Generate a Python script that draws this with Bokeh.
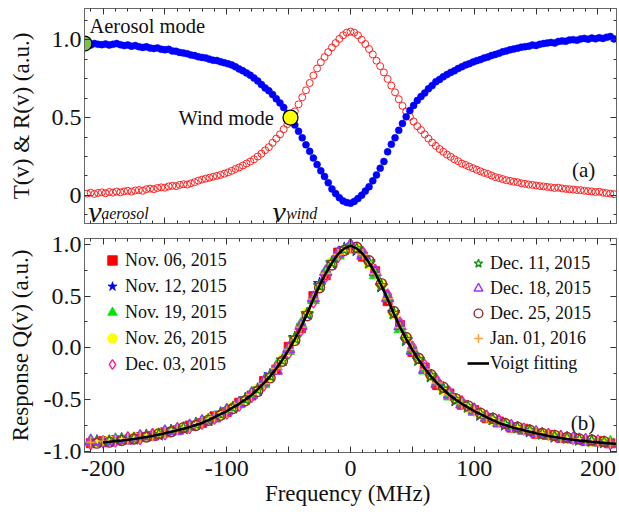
import numpy as np
from bokeh.plotting import figure
from bokeh.layouts import column
from bokeh.models import (LinearAxis, FixedTicker, Legend, LegendItem, Label, Range1d)
from bokeh.embed import file_html
from bokeh.resources import INLINE

FONT = "Liberation Serif"

# ---------------- panel (a): transmission T and reflection R ----------------
freq_top = list(range(-213, 214, 3))
trans_T = [
    0.970, 0.965, 0.975, 0.970, 0.968, 0.972, 0.965, 0.970, 0.975, 0.968,
    0.962, 0.966, 0.958, 0.962, 0.955, 0.950, 0.954, 0.946, 0.943, 0.947,
    0.938, 0.935, 0.938, 0.928, 0.925, 0.918, 0.914, 0.910, 0.902, 0.898,
    0.890, 0.886, 0.883, 0.875, 0.868, 0.866, 0.858, 0.852, 0.845, 0.838,
    0.826, 0.812, 0.800, 0.786, 0.772, 0.754, 0.735, 0.712, 0.690, 0.672,
    0.648, 0.620, 0.594, 0.565, 0.525, 0.490, 0.452, 0.412, 0.370, 0.325,
    0.283, 0.240, 0.198, 0.158, 0.122, 0.082, 0.042, 0.012, -0.015, -0.035,
    -0.046, -0.050, -0.038, -0.020, 0.002, 0.028, 0.056, 0.094, 0.132, 0.175,
    0.218, 0.280, 0.328, 0.370, 0.418, 0.462, 0.505, 0.545, 0.578, 0.610,
    0.635, 0.658, 0.685, 0.705, 0.730, 0.745, 0.762, 0.776, 0.790, 0.800,
    0.815, 0.826, 0.838, 0.846, 0.856, 0.865, 0.872, 0.882, 0.888, 0.898,
    0.905, 0.912, 0.922, 0.928, 0.935, 0.940, 0.945, 0.952, 0.955, 0.958,
    0.965, 0.963, 0.970, 0.975, 0.978, 0.982, 0.978, 0.988, 0.992, 0.990,
    0.998, 1.000, 0.996, 1.005, 1.008, 1.003, 1.010, 1.006, 1.012, 1.008,
    1.015, 1.020, 1.005,
]
refl_R = [
    0.012, 0.018, 0.010, 0.016, 0.020, 0.014, 0.022, 0.018, 0.025, 0.020,
    0.026, 0.030, 0.024, 0.032, 0.035, 0.030, 0.040, 0.044, 0.040, 0.048,
    0.052, 0.050, 0.058, 0.062, 0.060, 0.068, 0.072, 0.070, 0.078, 0.085,
    0.095, 0.102, 0.108, 0.114, 0.120, 0.126, 0.132, 0.140, 0.148, 0.158,
    0.170, 0.180, 0.192, 0.205, 0.218, 0.232, 0.250, 0.268, 0.290, 0.310,
    0.338, 0.365, 0.392, 0.425, 0.458, 0.495, 0.540, 0.585, 0.630, 0.675,
    0.722, 0.770, 0.815, 0.855, 0.888, 0.920, 0.950, 0.978, 1.005, 1.028,
    1.045, 1.052, 1.045, 1.028, 1.000, 0.972, 0.940, 0.905, 0.865, 0.830,
    0.790, 0.748, 0.705, 0.662, 0.618, 0.575, 0.538, 0.505, 0.475, 0.445,
    0.420, 0.392, 0.365, 0.340, 0.318, 0.298, 0.280, 0.262, 0.248, 0.232,
    0.220, 0.205, 0.196, 0.185, 0.175, 0.165, 0.155, 0.145, 0.138, 0.128,
    0.118, 0.112, 0.105, 0.098, 0.094, 0.088, 0.085, 0.078, 0.075, 0.070,
    0.068, 0.064, 0.060, 0.058, 0.055, 0.052, 0.048, 0.050, 0.045, 0.042,
    0.040, 0.038, 0.035, 0.034, 0.030, 0.028, 0.026, 0.022, 0.024, 0.018,
    0.015, 0.012, 0.008,
]
# highlighted operating points: aerosol mode, wind mode
mode_freq = [-215.0, -48.5]
mode_value = [0.975, 0.5]
mode_colors = ["#7DC243", "#FFFF00"]

# ---------------- panel (b): response function Q ----------------
freq_fit = list(range(-200, 216, 5))
voigt_fit = [
    -0.912, -0.907, -0.900, -0.895, -0.887, -0.880, -0.870, -0.860, -0.850, -0.837,
    -0.825, -0.810, -0.795, -0.780, -0.765, -0.745, -0.725, -0.698, -0.670, -0.640,
    -0.610, -0.575, -0.540, -0.500, -0.455, -0.400, -0.340, -0.275, -0.200, -0.115,
    -0.020, 0.085, 0.200, 0.330, 0.470, 0.600, 0.720, 0.820, 0.905, 0.960,
    0.985, 0.960, 0.905, 0.820, 0.720, 0.600, 0.470, 0.330, 0.200, 0.085,
    -0.020, -0.115, -0.200, -0.275, -0.340, -0.400, -0.455, -0.500, -0.540, -0.575,
    -0.610, -0.640, -0.670, -0.698, -0.725, -0.745, -0.765, -0.780, -0.795, -0.810,
    -0.825, -0.837, -0.850, -0.860, -0.870, -0.880, -0.887, -0.895, -0.900, -0.907,
    -0.912, -0.917, -0.922, -0.925,
]

freq_scan_a = list(range(-210, 211, 10))
freq_scan_b = list(range(-205, 206, 10))

dates = ["Nov. 06, 2015", "Nov. 12, 2015", "Nov. 19, 2015", "Nov. 26, 2015",
         "Dec. 03, 2015", "Dec. 11, 2015", "Dec. 18, 2015", "Dec. 25, 2015",
         "Jan. 01, 2016"]
scan_grid = ["a", "b", "a", "b", "a", "b", "a", "b", "a"]

q_nov06 = [-0.92, -0.90, -0.89, -0.885, -0.86, -0.85, -0.815, -0.795, -0.75, -0.725,
           -0.66, -0.62, -0.53, -0.46, -0.32, -0.21, 0.01, 0.19, 0.50, 0.70,
           0.92, 0.96, 0.88, 0.74, 0.45, 0.22, -0.04, -0.19, -0.36, -0.44,
           -0.55, -0.60, -0.68, -0.71, -0.77, -0.78, -0.83, -0.84, -0.87, -0.875,
           -0.90, -0.90, -0.92]
q_nov12 = [-0.90, -0.905, -0.88, -0.88, -0.845, -0.84, -0.80, -0.78, -0.73, -0.70,
           -0.63, -0.58, -0.49, -0.41, -0.26, -0.12, 0.10, 0.32, 0.62, 0.81,
           0.96, 0.94, 0.83, 0.59, 0.34, 0.07, -0.12, -0.28, -0.39, -0.51,
           -0.57, -0.65, -0.69, -0.745, -0.77, -0.81, -0.83, -0.86, -0.87, -0.89,
           -0.895, -0.915]
q_nov19 = [-0.91, -0.91, -0.885, -0.875, -0.87, -0.84, -0.825, -0.785, -0.765, -0.715,
           -0.675, -0.60, -0.545, -0.44, -0.35, -0.18, -0.03, 0.23, 0.46, 0.74,
           0.89, 0.98, 0.91, 0.70, 0.49, 0.18, -0.01, -0.22, -0.33, -0.47,
           -0.53, -0.62, -0.665, -0.73, -0.755, -0.80, -0.815, -0.85, -0.86, -0.885,
           -0.89, -0.91, -0.91]
q_nov26 = [-0.915, -0.895, -0.89, -0.865, -0.86, -0.825, -0.81, -0.77, -0.745, -0.69,
           -0.645, -0.57, -0.505, -0.395, -0.28, -0.11, 0.08, 0.34, 0.59, 0.83,
           0.94, 0.96, 0.81, 0.61, 0.32, 0.09, -0.11, -0.27, -0.41, -0.495,
           -0.58, -0.635, -0.70, -0.735, -0.78, -0.80, -0.84, -0.85, -0.88, -0.885,
           -0.905, -0.905]
q_dec03 = [-0.925, -0.91, -0.90, -0.87, -0.875, -0.835, -0.83, -0.78, -0.77, -0.73,
           -0.68, -0.63, -0.555, -0.47, -0.36, -0.19, -0.05, 0.17, 0.44, 0.69,
           0.88, 0.99, 0.92, 0.75, 0.51, 0.24, 0.01, -0.17, -0.32, -0.43,
           -0.52, -0.59, -0.66, -0.70, -0.75, -0.785, -0.81, -0.835, -0.855, -0.875,
           -0.885, -0.90, -0.925]
q_dec11 = [-0.905, -0.90, -0.885, -0.875, -0.85, -0.835, -0.80, -0.775, -0.735, -0.695,
           -0.635, -0.575, -0.495, -0.40, -0.27, -0.12, 0.09, 0.33, 0.60, 0.825,
           0.95, 0.955, 0.82, 0.60, 0.33, 0.08, -0.115, -0.27, -0.40, -0.50,
           -0.57, -0.64, -0.69, -0.74, -0.77, -0.80, -0.83, -0.855, -0.87, -0.885,
           -0.90, -0.91]
q_dec18 = [-0.90, -0.915, -0.90, -0.89, -0.855, -0.855, -0.81, -0.80, -0.755, -0.71,
           -0.68, -0.605, -0.535, -0.45, -0.33, -0.22, -0.01, 0.21, 0.48, 0.73,
           0.91, 0.99, 0.89, 0.73, 0.48, 0.21, -0.03, -0.21, -0.35, -0.45,
           -0.545, -0.605, -0.675, -0.725, -0.765, -0.795, -0.825, -0.85, -0.87, -0.88,
           -0.90, -0.91, -0.93]
q_dec25 = [-0.92, -0.91, -0.895, -0.88, -0.86, -0.83, -0.81, -0.77, -0.75, -0.70,
           -0.65, -0.585, -0.51, -0.42, -0.29, -0.13, 0.07, 0.31, 0.58, 0.80,
           0.94, 0.97, 0.84, 0.62, 0.35, 0.10, -0.10, -0.26, -0.38, -0.49,
           -0.56, -0.63, -0.68, -0.73, -0.765, -0.795, -0.825, -0.845, -0.865, -0.88,
           -0.89, -0.905]
q_jan01 = [-0.91, -0.90, -0.895, -0.88, -0.865, -0.85, -0.82, -0.79, -0.765, -0.72,
           -0.665, -0.615, -0.54, -0.45, -0.345, -0.20, -0.015, 0.20, 0.47, 0.72,
           0.90, 0.97, 0.90, 0.715, 0.475, 0.195, -0.02, -0.205, -0.34, -0.455,
           -0.54, -0.61, -0.67, -0.72, -0.76, -0.79, -0.82, -0.845, -0.865, -0.88,
           -0.895, -0.905, -0.915]
q_series = [q_nov06, q_nov12, q_nov19, q_nov26, q_dec03, q_dec11, q_dec18, q_dec25, q_jan01]

# marker styles (shape, color, filled, size)
marker_shape = ["square", "star", "triangle", "circle", "diamond", "star", "triangle", "circle", "cross"]
marker_color = ["#FF0000", "#0000FF", "#00E600", "#FFFF00", "#FF2299", "#1E8C1E", "#9933FF", "#9A2A2A", "#FFA040"]
marker_filled = [True, True, True, True, False, False, False, False, False]
marker_size = [9, 13, 12, 10, 12, 13, 12, 10, 11]

# axis ticks and their labels
x_major = list(range(-200, 201, 50))
x_minor = list(range(-210, 211, 10))
x_labels = {-200: "-200", -150: "", -100: "-100", -50: "", 0: "0", 50: "", 100: "100", 150: "", 200: "200"}
ya_major = [0.0, 0.5, 1.0]
ya_minor = [-0.125, 0.125, 0.25, 0.375, 0.625, 0.75, 0.875, 1.125]
ya_labels = {0: "0", 0.5: "0.5", 1: "1.0"}
yb_major = [-1.0, -0.5, 0.0, 0.5, 1.0]
yb_minor = [-0.75, -0.25, 0.25, 0.75]
yb_labels = {-1: "-1.0", -0.5: "-0.5", 0: "0.0", 0.5: "0.5", 1: "1.0"}

AXC = "#666666"


def style_axis(ax, show_labels=True):
    ax.axis_line_color = AXC
    ax.axis_line_width = 1
    ax.major_tick_line_color = "#333333"
    ax.minor_tick_line_color = "#333333"
    ax.major_tick_in = 6
    ax.major_tick_out = 0
    ax.minor_tick_in = 3
    ax.minor_tick_out = 0
    ax.major_label_text_font = FONT
    ax.major_label_text_font_size = "24px"
    ax.major_label_text_color = "#111111"
    ax.axis_label_text_font = FONT
    ax.axis_label_text_font_size = "23px"
    ax.axis_label_text_font_style = "normal"
    ax.axis_label_text_color = "#111111"
    if not show_labels:
        ax.major_label_overrides = {t: "" for t in ax.ticker.ticks}
        ax.major_label_standoff = 0
        ax.axis_label = None


def make_fig(frame_h, ylo, yhi, top, bottom):
    p = figure(frame_width=532, frame_height=frame_h,
               x_range=Range1d(-215, 215), y_range=Range1d(ylo, yhi),
               output_backend="svg", toolbar_location=None,
               min_border_left=84, min_border_right=3,
               min_border_top=top, min_border_bottom=bottom,
               x_axis_location=None, y_axis_location=None)
    p.xgrid.visible = False
    p.ygrid.visible = False
    p.outline_line_color = AXC
    p.background_fill_color = "white"
    p.border_fill_color = "white"
    return p


# ---------------- figure (a) ----------------
p1 = make_fig(215, -0.18, 1.2, 8, 7)
xt1 = FixedTicker(ticks=x_major, minor_ticks=x_minor)
yt1 = FixedTicker(ticks=ya_major, minor_ticks=ya_minor)
for loc in ["below", "above"]:
    ax = LinearAxis(ticker=xt1)
    style_axis(ax, show_labels=False)
    p1.add_layout(ax, loc)
axl = LinearAxis(ticker=yt1, axis_label="T(v) & R(v) (a.u.)")
style_axis(axl)
axl.major_label_overrides = ya_labels
axl.major_label_standoff = 3
axl.axis_label_standoff = 15
p1.add_layout(axl, "left")
axr = LinearAxis(ticker=yt1)
style_axis(axr, show_labels=False)
p1.add_layout(axr, "right")

p1.scatter(freq_top, refl_R, marker="circle", size=7, fill_color=None,
           line_color="#FF2020", line_width=1)
p1.scatter(freq_top, trans_T, marker="circle", size=7, fill_color="#0000FF",
           line_color="#0000FF", line_width=0.5)
p1.scatter(mode_freq, mode_value, marker="circle", size=15, fill_color=mode_colors,
           line_color="black", line_width=1.3)


def add_label(p, x, y, text, size, align="left", baseline="middle", style="normal"):
    p.add_layout(Label(x=x, y=y, text=text, text_font=FONT, text_font_size=size,
                       text_align=align, text_baseline=baseline,
                       text_font_style=style, text_color="#111111"))


add_label(p1, -211, 1.085, "Aerosol mode", "20.5px")
add_label(p1, -62, 0.5, "Wind mode", "20.5px", align="right")
add_label(p1, 188.5, 0.162, "(a)", "21px", align="center")
add_label(p1, -212, -0.10, "ν", "30px", baseline="alphabetic", style="italic")
add_label(p1, -201.5, -0.118, "aerosol", "16px", baseline="alphabetic", style="italic")
add_label(p1, -63, -0.10, "ν", "30px", baseline="alphabetic", style="italic")
add_label(p1, -52, -0.118, "wind", "16px", baseline="alphabetic", style="italic")

# ---------------- figure (b) ----------------
p2 = make_fig(214, -1.01, 1.055, 8, 62)
xt2 = FixedTicker(ticks=x_major, minor_ticks=x_minor)
yt2 = FixedTicker(ticks=yb_major, minor_ticks=yb_minor)
axb = LinearAxis(ticker=xt2, axis_label="Frequency  (MHz)")
style_axis(axb)
axb.major_label_overrides = x_labels
axb.major_label_standoff = 8
axb.axis_label_standoff = 2
p2.add_layout(axb, "below")
axa = LinearAxis(ticker=xt2)
style_axis(axa, show_labels=False)
p2.add_layout(axa, "above")
axl2 = LinearAxis(ticker=yt2, axis_label="Response Q(v) (a.u.)")
style_axis(axl2)
axl2.major_label_overrides = yb_labels
axl2.major_label_standoff = 3
axl2.axis_label_standoff = 8
p2.add_layout(axl2, "left")
axr2 = LinearAxis(ticker=yt2)
style_axis(axr2, show_labels=False)
p2.add_layout(axr2, "right")

renderers = []
for i, q in enumerate(q_series):
    fx = freq_scan_a if scan_grid[i] == "a" else freq_scan_b
    if len(fx) != len(q):
        raise ValueError(f"series {i}: {len(fx)} vs {len(q)}")
    kw = dict(marker=marker_shape[i], size=marker_size[i], line_color=marker_color[i])
    if marker_filled[i]:
        kw.update(fill_color=marker_color[i], line_width=0.8)
    else:
        kw.update(fill_color=None, line_width=1.4)
    r = p2.scatter(fx, q, **kw)
    renderers.append(r)

fit_r = p2.line(freq_fit, voigt_fit, line_color="black", line_width=2.6)
add_label(p2, 188, -0.728, "(b)", "21px", align="center")


def make_legend(items, loc, gw, spacing):
    return Legend(items=items, location=loc, orientation="vertical",
                  label_text_font=FONT, label_text_font_size="18px",
                  label_text_color="#111111", label_text_baseline="middle",
                  glyph_width=gw, glyph_height=24, label_height=24,
                  label_standoff=1, spacing=spacing, padding=0, margin=0,
                  border_line_color=None, background_fill_alpha=0)


left_items = [LegendItem(label=dates[i], renderers=[renderers[i]]) for i in range(5)]
right_items = [LegendItem(label=dates[i], renderers=[renderers[i]]) for i in range(5, 9)]
right_items.append(LegendItem(label="Voigt fitting", renderers=[fit_r]))
p2.add_layout(make_legend(left_items, (16, 76), 24, 2))
p2.add_layout(make_legend(right_items, (383, 77), 22, 1))

layout = column(p1, p2, spacing=0)
open("out.html", "w").write(file_html(layout, INLINE))
